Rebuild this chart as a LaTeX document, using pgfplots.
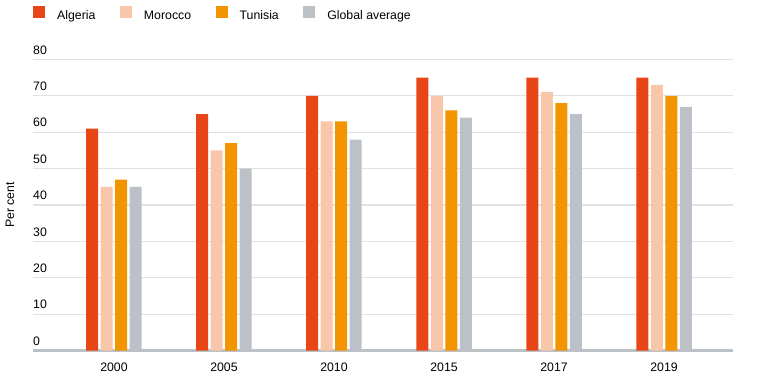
\documentclass[border=0pt]{standalone}
\usepackage{fontspec}
\setmainfont{Liberation Sans}
\usepackage{pgfplots}
\pgfplotsset{compat=1.18}
\definecolor{alg}{HTML}{E84616}
\definecolor{mor}{HTML}{F8C6A8}
\definecolor{tun}{HTML}{F29500}
\definecolor{glo}{HTML}{BCC1C7}
\definecolor{gridc}{HTML}{E2E2E2}
\begin{document}
\fontsize{12.3}{14}\selectfont
\begin{tikzpicture}
\useasboundingbox (0,0) rectangle (764pt,384pt);
\begin{axis}[
  at={(33pt,33.5pt)}, anchor=south west,
  scale only axis, width=700pt, height=291pt,
  xmin=-0.736, xmax=5.627, ymin=0, ymax=80,
  ybar=2.5pt, bar width=12pt,
  xtick=data, xticklabels={2000,2005,2010,2015,2017,2019},
  ytick={0,10,...,80},
  ymajorgrids, major grid style={gridc, line width=1.2pt},
  axis x line*=bottom, axis y line*=left,
  y axis line style={draw=none},
  x axis line style={glo, line width=3pt},
  major tick length=0pt,
  /pgf/number format/assume math mode=true,
  yticklabel style={anchor=south west, inner sep=0pt, yshift=5pt},
  xticklabel style={anchor=north, inner sep=0pt, yshift=-12pt},
  ylabel={Per cent},
  ylabel style={at={(axis description cs:-0.0329,0.5)}, anchor=center},
  legend columns=-1,
  legend style={at={(axis description cs:0,1)}, anchor=north west, yshift=54pt,
    draw=none, fill=none, inner sep=0pt, nodes={inner sep=0pt},
    /tikz/every even column/.append style={column sep=24.5pt},
    /tikz/every odd column/.append style={column sep=12pt}},
  legend image code/.code={\fill[#1] (0pt,-1.6pt) rectangle (12pt,10.4pt);},
]
\addplot[fill=alg, draw=none] coordinates {(0,61) (1,65) (2,70) (3,75) (4,75) (5,75)};
\addplot[fill=mor, draw=none] coordinates {(0,45) (1,55) (2,63) (3,70) (4,71) (5,73)};
\addplot[fill=tun, draw=none] coordinates {(0,47) (1,57) (2,63) (3,66) (4,68) (5,70)};
\addplot[fill=glo, draw=none] coordinates {(0,45) (1,50) (2,58) (3,64) (4,65) (5,67)};
\legend{Algeria, Morocco, Tunisia, Global average}
\end{axis}
\end{tikzpicture}
\end{document}
